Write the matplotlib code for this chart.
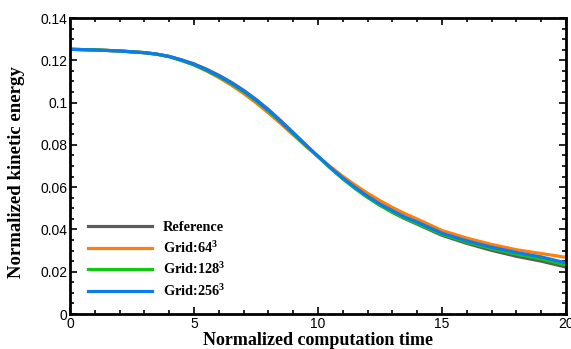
import numpy as np
import matplotlib
matplotlib.use('Agg')
import matplotlib.pyplot as plt
from matplotlib.ticker import MultipleLocator

# values
t = [0, 1, 2, 3, 3.5, 4, 4.5, 5, 5.5, 6, 6.5, 7, 7.5, 8, 8.5, 9, 9.5, 10,
     10.5, 11, 11.5, 12, 12.5, 13, 13.5, 14, 15, 16, 17, 18, 19, 20]
ke_ref = [.1252, .1249, .1244, .1236, .1229, .1218, .1202, .1183, .1158, .1129, .1096, .1058,
          .1015, .0967, .0914, .0858, .0801, .0745, .0692, .0642, .0596, .0553, .0515, .0481,
          .0451, .0425, .0372, .0334, .0301, .0273, .0250, .0222]
ke_64 = [.1252, .1249, .1244, .1236, .1229, .1218, .1199, .1178, .1150, .1118, .1083, .1043,
         .0999, .0951, .0900, .0847, .0795, .0745, .0697, .0651, .0610, .0571, .0536, .0504,
         .0475, .0449, .0395, .0359, .0329, .0304, .0286, .0268]
ke_128 = [.1252, .1249, .1244, .1236, .1229, .1217, .1199, .1178, .1152, .1123, .1090, .1052,
          .1009, .0961, .0908, .0853, .0797, .0745, .0690, .0639, .0593, .0551, .0514, .0481,
          .0453, .0428, .0376, .0340, .0309, .0283, .0260, .0232]
ke_256 = [.1252, .1249, .1244, .1236, .1229, .1218, .1201, .1181, .1155, .1126, .1093, .1055,
          .1012, .0964, .0911, .0856, .0800, .0746, .0693, .0643, .0598, .0557, .0520, .0489,
          .0459, .0435, .0382, .0346, .0316, .0291, .0270, .0242]
labels = ['Reference', 'Grid:64$^\\mathbf{3}$', 'Grid:128$^\\mathbf{3}$', 'Grid:256$^\\mathbf{3}$']
colors = ['#5c5c5c', '#ff7f0a', '#10c810', '#0a7cf0']
yticks = [0, 0.02, 0.04, 0.06, 0.08, 0.1, 0.12, 0.14]
ytick_labels = ['0', '0.02', '0.04', '0.06', '0.08', '0.1', '0.12', '0.14']

plt.rcParams['mathtext.fontset'] = 'custom'
plt.rcParams['mathtext.bf'] = 'Liberation Serif:bold'
plt.rcParams['mathtext.rm'] = 'Liberation Serif:bold'

fig = plt.figure(figsize=(5.71, 3.49), dpi=100)
ax = fig.add_axes([70 / 571, 35 / 349, 496 / 571, 296 / 349])

for y, lab, c in zip([ke_ref, ke_64, ke_128, ke_256], labels, colors):
    ax.plot(t, y, color=c, lw=2.3, label=lab, solid_joinstyle='round')

ax.set_xlim(0, 20)
ax.set_ylim(0, 0.14)
ax.xaxis.set_major_locator(MultipleLocator(5))
ax.xaxis.set_minor_locator(MultipleLocator(1))
ax.set_yticks(yticks)
ax.set_yticklabels(ytick_labels)
ax.yaxis.set_minor_locator(MultipleLocator(0.005))
ax.tick_params(which='both', direction='in', top=True, right=True, width=1.2,
               labelsize=10, pad=2)
ax.tick_params(which='major', length=5)
ax.tick_params(which='minor', length=3)
for lab in ax.get_xticklabels() + ax.get_yticklabels():
    lab.set_fontfamily('Liberation Sans')
for s in ax.spines.values():
    s.set_linewidth(2)

ax.set_xlabel('Normalized computation time', fontfamily='Liberation Serif',
              fontweight='bold', fontsize=13)
ax.set_ylabel('Normalized kinetic energy', fontfamily='Liberation Serif',
              fontweight='bold', fontsize=13.5)
ax.xaxis.set_label_coords(0.5, -0.062)
ax.yaxis.set_label_coords(-0.091, 0.48)

ax.legend(loc='lower left', bbox_to_anchor=(0.0363, 0.05), frameon=False,
          borderpad=0, borderaxespad=0,
          prop={'family': 'Liberation Serif', 'weight': 'bold', 'size': 10.3},
          handlelength=4.47, handletextpad=0.77, labelspacing=0.36)

fig.savefig('out.png', dpi=100)
